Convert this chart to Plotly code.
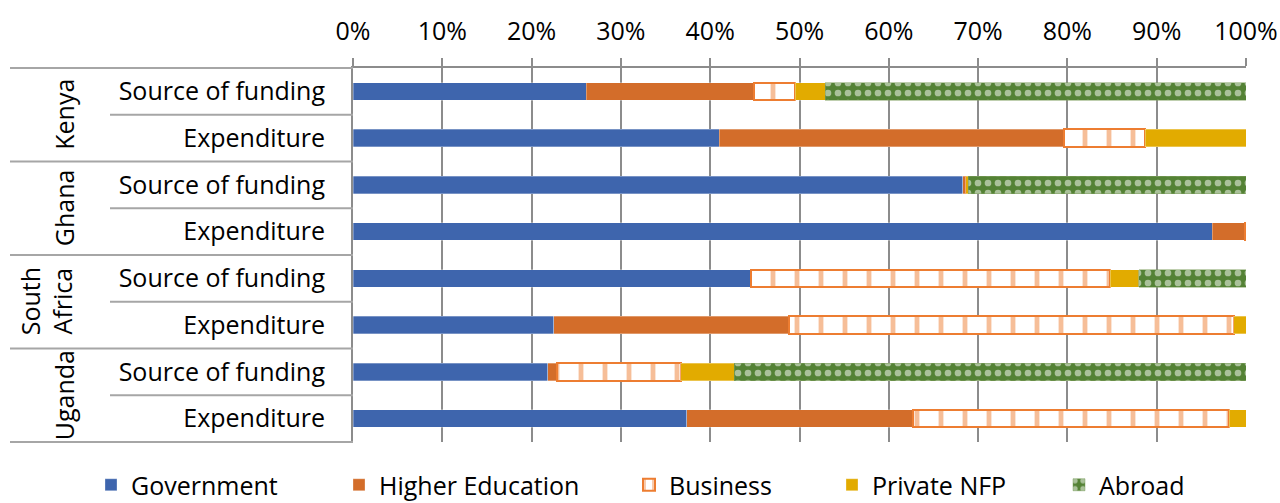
import plotly.graph_objects as go

countries = ["Kenya", "Ghana", "South<br>Africa", "Uganda"]
row_types = ["Source of funding", "Expenditure"] * 4
series_names = ["Government", "Higher Education", "Business", "Private NFP", "Abroad"]

# values in % per row (Kenya SoF, Kenya Exp, Ghana SoF, Ghana Exp, SA SoF, SA Exp, Uganda SoF, Uganda Exp)
government = [26.1, 41.0, 68.3, 96.2, 44.6, 22.5, 21.8, 37.4]
higher_edu = [18.8, 38.6, 0.3, 3.7, 0.0, 26.3, 1.0, 25.3]
business = [4.6, 9.1, 0.0, 0.1, 40.2, 49.8, 13.9, 35.4]
private_nfp = [3.4, 11.3, 0.3, 0.0, 3.2, 1.4, 6.0, 1.9]
abroad = [47.1, 0.0, 31.1, 0.0, 12.0, 0.0, 57.3, 0.0]

x_ticks = list(range(0, 101, 10))

FONT = "Open Sans"
FS = 25
GRID = "#8C8C8C"
SEP = "#A6A6A6"

rows = list(range(len(row_types)))

fig = go.Figure()

styles = [
    dict(color="#3E65AD", line=dict(color="rgba(255,255,255,0.6)", width=0.5)),
    dict(color="#D36D2A", line=dict(color="rgba(255,255,255,0.6)", width=0.5)),
    dict(color="#FFFFFF", line=dict(color="#ED7D31", width=2),
         pattern=dict(shape="|", fgcolor="#ED7D31", bgcolor="#FFFFFF", size=24, solidity=0.2, fillmode="overlay")),
    dict(color="#E2AB00", line=dict(color="rgba(255,255,255,0.6)", width=0.5)),
    dict(color="#548235", line=dict(color="#7FA060", width=0.5),
         pattern=dict(shape=".", fgcolor="#FFFFFF", bgcolor="#548235", size=10, solidity=0.35, fillmode="overlay")),
]
all_vals = [government, higher_edu, business, private_nfp, abroad]
legend_px = [111, 359, 649, 852, 1079]

L, R, T, B = 353, 34, 68, 61
W, H = 1280, 503
pw = W - L - R
ph = H - T - B

for i, (name, vals, st) in enumerate(zip(series_names, all_vals, styles)):
    fig.add_trace(go.Bar(
        name=name, x=vals, y=rows, orientation="h", marker=st, width=0.37,
        legend=f"legend{i+2}", hoverinfo="x+name",
    ))

legend_y = -(485 - (H - B)) / ph
leg_common = dict(orientation="h", yanchor="middle", y=legend_y, xanchor="left",
                  font=dict(family=FONT, size=FS, color="#000000"),
                  bgcolor="rgba(0,0,0,0)", itemwidth=30, traceorder="normal")
legends = {}
for i, px in enumerate(legend_px):
    legends[f"legend{i+2}"] = dict(leg_common, x=(px - 20 - L) / pw)

shapes = []
n = len(row_types)
def ypaper(v):
    return 1 - (v + 0.5) / n
for g in range(0, n + 1, 2):
    shapes.append(dict(type="line", xref="paper", yref="paper", x0=(10 - L) / pw, x1=0,
                       y0=ypaper(g - 0.5), y1=ypaper(g - 0.5), line=dict(color=SEP, width=2)))
for g in range(1, n, 2):
    shapes.append(dict(type="line", xref="paper", yref="paper", x0=(110 - L) / pw, x1=0,
                       y0=ypaper(g - 0.5), y1=ypaper(g - 0.5), line=dict(color=SEP, width=2)))

annotations = []
for ci, c in enumerate(countries):
    nl = c.count("<br>") + 1
    annotations.append(dict(text=c, textangle=-90, xref="paper", yref="y",
                            x=(64 - (nl - 1) * 17.5 - L) / pw,
                            y=ci * 2 + 0.5, showarrow=False, xanchor="center", yanchor="middle",
                            font=dict(family=FONT, size=FS, color="#000000")))

fig.update_layout(
    width=W, height=H, barmode="stack",
    margin=dict(l=L, r=R, t=T, b=B, autoexpand=False),
    paper_bgcolor="#FFFFFF", plot_bgcolor="#FFFFFF",
    font=dict(family=FONT, size=FS, color="#000000"),
    shapes=shapes, annotations=annotations,
    showlegend=True,
    **legends,
    xaxis=dict(side="top", range=[0, 100], tickvals=x_ticks, ticktext=[f"{v}%" for v in x_ticks],
               showgrid=True, gridcolor=GRID, gridwidth=2, showline=True, linecolor=GRID, linewidth=2,
               ticks="outside", ticklen=8, tickwidth=2, tickcolor=GRID, zeroline=False, automargin=False,
               tickfont=dict(family=FONT, size=FS, color="#000000"), ticklabelstandoff=8),
    yaxis=dict(range=[n - 0.5, -0.5], tickvals=rows, ticktext=row_types, showgrid=False,
               showline=True, linecolor=GRID, linewidth=2, zeroline=False, ticks="", automargin=False,
               tickfont=dict(family=FONT, size=FS, color="#000000"), ticklabelstandoff=21),
)

fig.write_html("out.html")
